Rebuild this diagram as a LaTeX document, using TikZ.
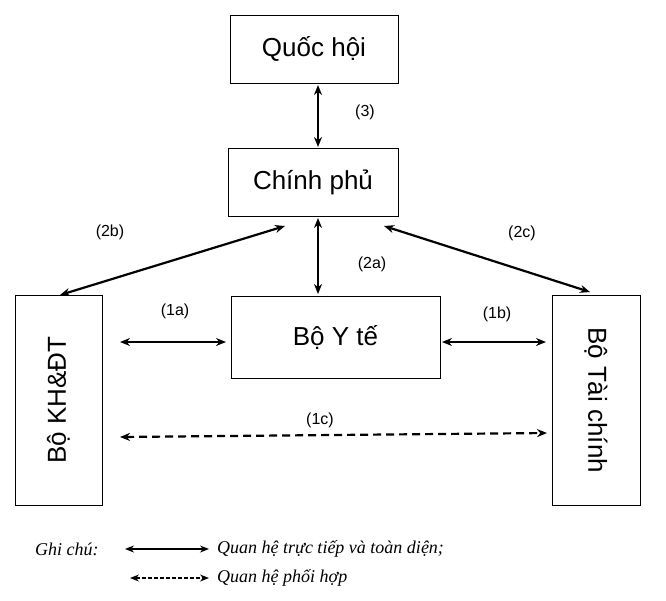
\documentclass[tikz,border=0pt]{standalone}
\usepackage{fontspec}
\setmainfont{Liberation Sans}
\newfontfamily\legfont{Liberation Serif}
\usetikzlibrary{arrows.meta}
\begin{document}
\begin{tikzpicture}[x=1pt,y=-1pt,
  box/.style={draw,line width=1pt,inner sep=0pt,font=\fontsize{26}{29}\selectfont},
  rel/.style={line width=2.2pt,{Stealth[length=10pt,width=8pt]}-{Stealth[length=10pt,width=8pt]}},
  coop/.style={rel,dashed,dash pattern=on 8pt off 5pt},
  lab/.style={font=\fontsize{16}{18}\selectfont},
  leg/.style={font=\legfont\itshape\fontsize{18}{20}\selectfont,anchor=west,inner sep=0pt},
  legarr/.style={line width=1.2pt,{Stealth[length=9pt,width=7pt]}-{Stealth[length=9pt,width=7pt]}}]
\useasboundingbox (0,0) rectangle (666,600);
\node[box,minimum width=168pt,minimum height=68pt] (qh) at (314,49) {Quốc hội};
\node[box,minimum width=170pt,minimum height=68pt] (cp) at (313,182) {Chính phủ};
\node[box,minimum width=209pt,minimum height=82pt] (yt) at (335.5,337) {Bộ Y tế};
\node[box,minimum width=87pt,minimum height=210pt] (kh) at (58.5,400) {};
\node[rotate=90,font=\fontsize{26}{29}\selectfont] (khl) at (kh.center) {Bộ KH\&ĐT};
\node[box,minimum width=88pt,minimum height=210pt] (tc) at (596,400) {};
\node[rotate=-90,font=\fontsize{26}{29}\selectfont] (tcl) at (tc.center) {Bộ Tài chính};
\draw[rel] (318,85) -- (318,147);
\node[lab] (l3) at (365,112) {(3)};
\draw[rel] (318,218) -- (318,294);
\node[lab] (l2a) at (372,264) {(2a)};
\draw[rel] (285,226) -- (60,295);
\node[lab] (l2b) at (110,232) {(2b)};
\draw[rel] (384,226) -- (590,292);
\node[lab] (l2c) at (522,233) {(2c)};
\draw[rel] (120,342) -- (226,342);
\node[lab] (l1a) at (175,311) {(1a)};
\draw[rel] (442,342) -- (546,342);
\node[lab] (l1b) at (497,314) {(1b)};
\draw[coop] (120,437) -- (547,433);
\node[lab] (l1c) at (320,420) {(1c)};
\node[leg] (g) at (35,549) {Ghi chú:};
\coordinate (a1) at (125,549); \coordinate (a2) at (209,549);
\draw[legarr] (a1) -- (a2);
\node[leg] (t1) at (217,549) {Quan hệ trực tiếp và toàn diện;};
\coordinate (b1) at (130,578); \coordinate (b2) at (209,578);
\draw[legarr,dashed,dash pattern=on 4pt off 2pt] (b1) -- (b2);
\node[leg] (t2) at (217,578) {Quan hệ phối hợp};
\end{tikzpicture}
\end{document}
